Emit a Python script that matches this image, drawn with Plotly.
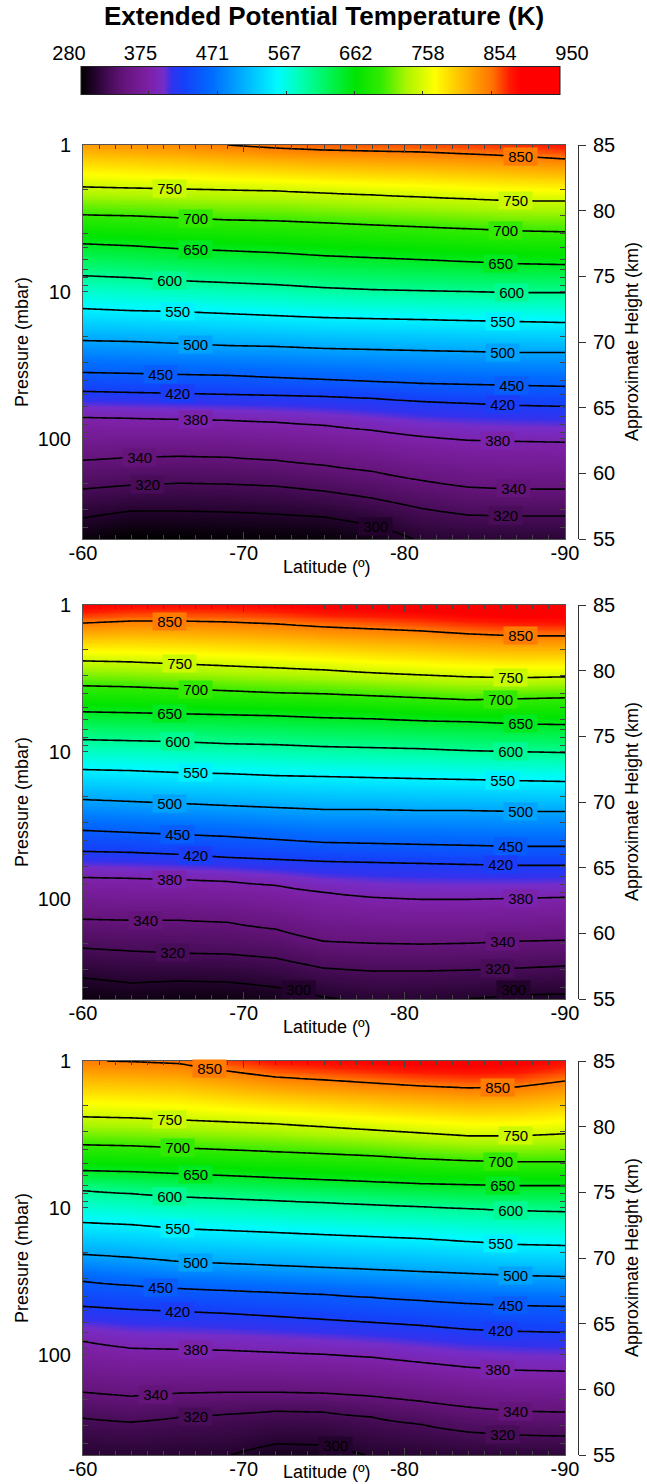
import numpy as np
import plotly.graph_objects as go

# ---------------- data ----------------
LEVELS = [300, 320, 340, 380, 420, 450, 500, 550, 600, 650, 700, 750, 850]
LATS = [-60, -63, -66, -69, -72, -75, -78, -81, -84, -87, -90]

# Approximate height (km) of each isotherm at each latitude in LATS
# Panel 1
P1_300 = [56.60, 57.13, 57.13, 57.05, 56.90, 56.67, 56.06, 54.77, 54.54, 54.54, 54.54]
P1_320 = [58.80, 59.10, 59.25, 59.18, 59.03, 58.65, 58.11, 57.35, 56.82, 56.75, 56.75]
P1_340 = [61.00, 61.23, 61.30, 61.23, 61.00, 60.62, 60.16, 59.48, 58.95, 58.80, 58.80]
P1_380 = [64.27, 64.19, 64.11, 64.04, 63.89, 63.66, 63.28, 62.82, 62.52, 62.44, 62.37]
P1_420 = [66.24, 66.16, 66.09, 66.01, 65.94, 65.86, 65.71, 65.48, 65.33, 65.18, 65.10]
P1_450 = [67.68, 67.61, 67.53, 67.46, 67.30, 67.15, 67.00, 66.85, 66.77, 66.70, 66.62]
P1_500 = [70.11, 70.04, 69.89, 69.73, 69.66, 69.51, 69.43, 69.35, 69.28, 69.20, 69.20]
P1_550 = [72.54, 72.39, 72.32, 72.16, 72.01, 71.86, 71.78, 71.71, 71.63, 71.56, 71.48]
P1_600 = [75.05, 74.90, 74.67, 74.52, 74.37, 74.14, 73.99, 73.91, 73.84, 73.76, 73.76]
P1_650 = [77.48, 77.33, 77.10, 76.95, 76.80, 76.57, 76.42, 76.27, 76.11, 75.96, 75.89]
P1_700 = [79.68, 79.61, 79.46, 79.30, 79.23, 79.08, 78.92, 78.77, 78.62, 78.47, 78.39]
P1_750 = [81.81, 81.73, 81.66, 81.58, 81.51, 81.35, 81.20, 81.05, 80.90, 80.75, 80.75]
P1_850 = [85.76, 85.53, 85.30, 85.00, 84.77, 84.62, 84.54, 84.47, 84.32, 84.16, 83.94]

# Panel 2
P2_300 = [56.60, 56.22, 56.37, 56.29, 55.91, 55.15, 54.62, 54.70, 55.00, 55.30, 55.38]
P2_320 = [58.87, 58.65, 58.49, 58.42, 58.11, 57.35, 57.13, 57.13, 57.20, 57.35, 57.51]
P2_340 = [61.08, 61.00, 61.00, 60.85, 60.32, 59.40, 59.25, 59.18, 59.25, 59.40, 59.48]
P2_380 = [64.27, 64.19, 64.11, 63.96, 63.66, 63.13, 62.75, 62.59, 62.59, 62.67, 62.75]
P2_420 = [66.24, 66.16, 66.01, 65.78, 65.63, 65.48, 65.40, 65.33, 65.25, 65.18, 65.18]
P2_450 = [67.84, 67.68, 67.53, 67.38, 67.15, 66.92, 66.85, 66.77, 66.70, 66.62, 66.62]
P2_500 = [70.19, 70.04, 69.89, 69.73, 69.58, 69.43, 69.43, 69.35, 69.35, 69.28, 69.28]
P2_550 = [72.47, 72.39, 72.24, 72.16, 72.01, 71.94, 71.86, 71.78, 71.71, 71.63, 71.56]
P2_600 = [74.75, 74.67, 74.59, 74.44, 74.37, 74.22, 74.14, 74.06, 73.91, 73.84, 73.76]
P2_650 = [76.87, 76.80, 76.72, 76.65, 76.57, 76.42, 76.34, 76.19, 76.11, 75.96, 75.89]
P2_700 = [78.85, 78.77, 78.62, 78.47, 78.32, 78.24, 78.09, 77.94, 77.78, 77.86, 77.94]
P2_750 = [80.75, 80.67, 80.52, 80.37, 80.22, 80.06, 79.84, 79.68, 79.53, 79.46, 79.53]
P2_850 = [83.63, 83.78, 83.78, 83.71, 83.56, 83.33, 83.18, 83.03, 82.80, 82.65, 82.65]

# Panel 3
P3_300 = [54.62, 54.54, 54.70, 54.92, 55.84, 55.76, 54.85, 54.62, 54.47, 54.39, 54.39]
P3_320 = [57.81, 57.51, 57.89, 58.11, 58.34, 58.27, 57.89, 57.35, 56.75, 56.52, 56.44]
P3_340 = [59.78, 59.48, 59.71, 59.78, 59.78, 59.71, 59.48, 59.10, 58.65, 58.34, 58.27]
P3_380 = [63.66, 63.13, 63.05, 62.97, 62.82, 62.67, 62.44, 62.06, 61.68, 61.46, 61.38]
P3_420 = [66.32, 66.09, 65.94, 65.78, 65.56, 65.33, 65.10, 64.87, 64.57, 64.42, 64.34]
P3_450 = [68.22, 67.91, 67.68, 67.53, 67.38, 67.23, 67.00, 66.77, 66.54, 66.39, 66.32]
P3_500 = [70.27, 70.04, 69.73, 69.58, 69.43, 69.28, 69.13, 68.97, 68.82, 68.67, 68.59]
P3_550 = [72.70, 72.54, 72.24, 72.09, 71.94, 71.78, 71.63, 71.48, 71.25, 71.03, 70.95]
P3_600 = [75.13, 74.90, 74.67, 74.52, 74.37, 74.22, 74.06, 73.91, 73.76, 73.61, 73.53]
P3_650 = [76.65, 76.57, 76.42, 76.27, 76.11, 75.96, 75.81, 75.66, 75.58, 75.51, 75.51]
P3_700 = [78.62, 78.54, 78.39, 78.24, 78.09, 77.94, 77.78, 77.56, 77.41, 77.33, 77.33]
P3_750 = [80.75, 80.67, 80.52, 80.37, 80.22, 79.99, 79.76, 79.53, 79.30, 79.30, 79.46]
P3_850 = [85.05, 84.95, 84.80, 84.24, 83.78, 83.56, 83.33, 83.10, 82.95, 83.03, 83.48]

PANEL1 = [P1_300, P1_320, P1_340, P1_380, P1_420, P1_450, P1_500, P1_550, P1_600, P1_650, P1_700, P1_750, P1_850]
PANEL2 = [P2_300, P2_320, P2_340, P2_380, P2_420, P2_450, P2_500, P2_550, P2_600, P2_650, P2_700, P2_750, P2_850]
PANEL3 = [P3_300, P3_320, P3_340, P3_380, P3_420, P3_450, P3_500, P3_550, P3_600, P3_650, P3_700, P3_750, P3_850]

CB_TICKS = [280, 375, 471, 567, 662, 758, 854, 950]
LAT_TICKS = [-60, -70, -80, -90]
HEIGHT_TICKS = [55, 60, 65, 70, 75, 80, 85]
P_MAJOR = [1, 10, 100]
P_BOTTOM = 480.0

# ---------------- label placement (latitudes along each isotherm) ----------------
LBL_LEFT = [
    {750: -65.4, 700: -67.0, 650: -67.0, 600: -65.4, 550: -65.9, 500: -67.0, 450: -64.8,
     420: -65.9, 380: -67.0, 340: -63.5, 320: -64.0, 300: -78.2},
    {850: -65.4, 750: -66.0, 700: -67.0, 650: -65.4, 600: -65.9, 550: -67.0, 500: -65.4,
     450: -65.9, 420: -67.0, 380: -65.4, 340: -63.9, 320: -65.6, 300: -73.4},
    {850: -67.9, 750: -65.4, 700: -65.9, 650: -67.0, 600: -65.4, 550: -65.9, 500: -67.0,
     450: -64.8, 420: -65.9, 380: -67.0, 340: -64.5, 320: -67.0, 300: -75.7},
]
LBL_RIGHT = [
    {850: -87.2, 750: -86.9, 700: -86.3, 650: -86.0, 600: -86.7, 550: -86.1, 500: -86.1,
     450: -86.7, 420: -86.1, 380: -85.8, 340: -86.8, 320: -86.3},
    {850: -87.2, 750: -86.6, 700: -86.0, 650: -87.2, 600: -86.6, 550: -86.1, 500: -87.2,
     450: -86.6, 420: -86.0, 380: -87.2, 340: -86.1, 320: -85.8, 300: -86.8},
    {850: -85.8, 750: -86.9, 700: -86.0, 650: -86.1, 600: -86.6, 550: -86.0, 500: -86.9,
     450: -86.6, 420: -86.0, 380: -85.8, 340: -86.9, 320: -86.1},
]

# ---------------- styling ----------------
FONT = "Liberation Sans, Arial, sans-serif"
W, H = 647, 1484
TMIN, TMAX = 280, 950
COLOR_ANCHORS = [
    (280, (0, 0, 0)), (300, (35, 3, 45)), (320, (72, 12, 88)), (340, (100, 20, 122)),
    (375, (125, 32, 165)), (396, (118, 45, 200)), (406, (50, 50, 238)), (425, (20, 65, 250)),
    (465, (0, 110, 255)), (510, (0, 180, 255)), (555, (0, 250, 255)), (585, (0, 255, 185)),
    (625, (0, 245, 90)), (665, (0, 228, 0)), (700, (50, 235, 0)), (735, (170, 245, 0)),
    (775, (255, 255, 0)), (815, (255, 185, 0)), (855, (255, 115, 0)), (880, (255, 25, 0)),
    (895, (255, 0, 0)), (950, (255, 0, 0)),
]
COLORSCALE = [[(t - TMIN) / (TMAX - TMIN), "rgb(%d,%d,%d)" % c] for t, c in COLOR_ANCHORS]


def color_at(t):
    ts = [a[0] for a in COLOR_ANCHORS]
    rgb = [np.interp(t, ts, [a[1][k] for a in COLOR_ANCHORS]) for k in range(3)]
    return "rgb(%d,%d,%d)" % tuple(int(round(v)) for v in rgb)


HGRID = np.linspace(55, 85, 301)
LATGRID = np.linspace(-90, -60, 121)


def build_field(iso):
    Hs = np.array(iso, dtype=float)
    T = np.array(LEVELS, dtype=float)
    cols = []
    for j in range(len(LATS)):
        h = Hs[:, j]
        lo = T[0] + (T[1] - T[0]) / (h[1] - h[0]) * (50 - h[0])
        hi = T[-1] + (T[-1] - T[-2]) / (h[-1] - h[-2]) * (90 - h[-1])
        cols.append(np.interp(HGRID, np.r_[50, h, 90], np.r_[lo, T, hi]))
    C = np.array(cols)
    lat_inc = np.array(LATS, dtype=float)[::-1]
    Z = np.array([np.interp(LATGRID, lat_inc, C[::-1, i]) for i in range(len(HGRID))])
    return Z


def axname(prefix, n):
    return prefix if n == 1 else f"{prefix}{n}"


PANEL_TOPS = [145, 605, 1061]
PANEL_H = 394
X0, X1 = 83, 565
RIGHT_AXIS_X = 578
PX_PER_KM = PANEL_H / 30.0

fig = go.Figure()
layout = dict(
    width=W, height=H, margin=dict(l=0, r=0, t=0, b=0, autoexpand=False),
    paper_bgcolor="white", plot_bgcolor="white",
    font=dict(family=FONT, color="black", size=18),
    showlegend=False,
)
annotations = []
lat_inc = np.array(LATS, dtype=float)[::-1]

for i, (iso, top) in enumerate(zip([PANEL1, PANEL2, PANEL3], PANEL_TOPS), start=1):
    Z = build_field(iso)
    xa = axname("x", i)
    yh = axname("y", 2 * i - 1)
    yp = axname("y", 2 * i)
    dom = [1 - (top + PANEL_H) / H, 1 - top / H]

    hm = dict(x=LATGRID, y=HGRID, z=Z, colorscale=COLORSCALE, zmin=TMIN, zmax=TMAX,
              zsmooth="best", xaxis=xa, yaxis=yh, hoverinfo="skip", showscale=(i == 1))
    if i == 1:
        hm["colorbar"] = dict(
            orientation="h", x=(81 + 560) / 2 / W, xanchor="center",
            y=1 - 83 / H, yanchor="middle", len=479 / W, lenmode="fraction",
            thickness=28, thicknessmode="pixels", outlinewidth=1, outlinecolor="#222",
            ticks="inside", tickmode="array", tickvals=CB_TICKS, ticklen=4, tickcolor="#333",
            showticklabels=False, xpad=0, ypad=0,
        )
    fig.add_trace(go.Heatmap(**hm))

    for lev in LEVELS:
        fig.add_trace(go.Contour(
            x=LATGRID, y=HGRID, z=Z, xaxis=xa, yaxis=yh,
            autocontour=False,
            contours=dict(start=lev, end=lev, size=1, coloring="lines", showlabels=False),
            line=dict(color="black", width=1.6, smoothing=1),
            colorscale=[[0, "black"], [1, "black"]], showscale=False, hoverinfo="skip",
        ))

    # empty trace so the pressure axis subplot is drawn
    fig.add_trace(go.Scatter(x=[], y=[], xaxis=xa, yaxis=yp, hoverinfo="skip",
                             showlegend=False))

    # contour labels
    for side in (LBL_LEFT[i - 1], LBL_RIGHT[i - 1]):
        for lev, lat in side.items():
            hs = np.array(iso[LEVELS.index(lev)], dtype=float)[::-1]
            hy = float(np.interp(lat, lat_inc, hs))
            if hy < 55.15 or hy > 84.8:
                continue
            shift = 0.0
            if hy < 55.7:
                shift = (55.7 - hy) * PX_PER_KM
            annotations.append(dict(
                text=" %d " % lev, x=lat, y=hy, xref=xa, yref=yh, showarrow=False,
                font=dict(size=15, color="black"), bgcolor=color_at(lev), borderpad=0,
                xanchor="center", yanchor="middle", yshift=shift,
            ))

    layout[axname("xaxis", i)] = dict(
        domain=[X0 / W, X1 / W], anchor=yh, range=[-60, -90],
        tickmode="array", tickvals=LAT_TICKS, ticktext=[str(v) for v in LAT_TICKS],
        ticks="inside", ticklen=7, tickcolor="#444", showline=True, linecolor="#555",
        linewidth=1, mirror="ticks", showgrid=False, zeroline=False,
        tickfont=dict(size=20), ticklabelstandoff=-4,
        minor=dict(tickmode="array", tickvals=[v for v in range(-89, -60) if v % 10 != 0],
                   ticks="inside", ticklen=4, tickcolor="#444", showgrid=False),
    )
    layout[axname("yaxis", 2 * i - 1)] = dict(
        domain=dom, anchor="free", position=RIGHT_AXIS_X / W, side="right",
        range=[55, 85], tickmode="array", tickvals=HEIGHT_TICKS,
        ticks="outside", ticklen=7, tickcolor="#333", showline=True, linecolor="#333",
        linewidth=1, showgrid=False, zeroline=False, tickfont=dict(size=20),
        ticklabelstandoff=3,
    )
    pvals = [m * d for d in P_MAJOR for m in range(1, 10) if m * d <= P_BOTTOM]
    layout[axname("yaxis", 2 * i)] = dict(
        overlaying=yh, anchor=xa, side="left", type="log",
        range=[np.log10(P_BOTTOM), 0], tickmode="array", tickvals=pvals,
        ticktext=[str(v) if v in P_MAJOR else "" for v in pvals],
        ticks="inside", ticklen=5, tickcolor="#444", showline=True, linecolor="#555",
        linewidth=1, mirror="ticks", showgrid=False, zeroline=False,
        tickfont=dict(size=20), ticklabelstandoff=7,
    )
    cy = 1 - (top + PANEL_H / 2) / H
    annotations.append(dict(text="Pressure (mbar)", x=22 / W, y=cy, xref="paper", yref="paper",
                            textangle=-90, showarrow=False, font=dict(size=18),
                            xanchor="center", yanchor="middle"))
    annotations.append(dict(text="Approximate Height (km)", x=632 / W, y=cy, xref="paper",
                            yref="paper", textangle=-90, showarrow=False, font=dict(size=18),
                            xanchor="center", yanchor="middle"))
    if i < 3:
        annotations.append(dict(text="Latitude (º)", x=327 / W, y=1 - (top + PANEL_H + 28) / H,
                                xref="paper", yref="paper", showarrow=False, font=dict(size=18),
                                xanchor="center", yanchor="middle"))
    else:
        annotations.append(dict(text="Latitude (º)", x=327 / W, y=0, xref="paper",
                                yref="paper", showarrow=False, font=dict(size=18),
                                xanchor="center", yanchor="bottom"))

# colourbar tick-label axis (labels above the bar)
fig.add_trace(go.Scatter(x=[], y=[], xaxis="x4", yaxis="y7", hoverinfo="skip",
                         showlegend=False))
layout["xaxis4"] = dict(
    domain=[69 / W, 572 / W], anchor="y7", side="top", range=[TMIN, TMAX],
    tickmode="array", tickvals=CB_TICKS, ticktext=[str(v) for v in CB_TICKS],
    ticks="", showline=False, showgrid=False, zeroline=False,
    tickfont=dict(size=20), ticklabelstandoff=4,
)
layout["yaxis7"] = dict(domain=[1 - 97 / H, 1 - 69 / H], anchor="x4", visible=False,
                        range=[0, 1])
annotations.append(dict(text="<b>Extended Potential Temperature (K)</b>", x=324 / W,
                        y=1 - 16 / H, xref="paper", yref="paper", showarrow=False,
                        font=dict(size=26), xanchor="center", yanchor="middle"))
layout["annotations"] = annotations
fig.update_layout(**layout)
fig.write_html("out.html")
